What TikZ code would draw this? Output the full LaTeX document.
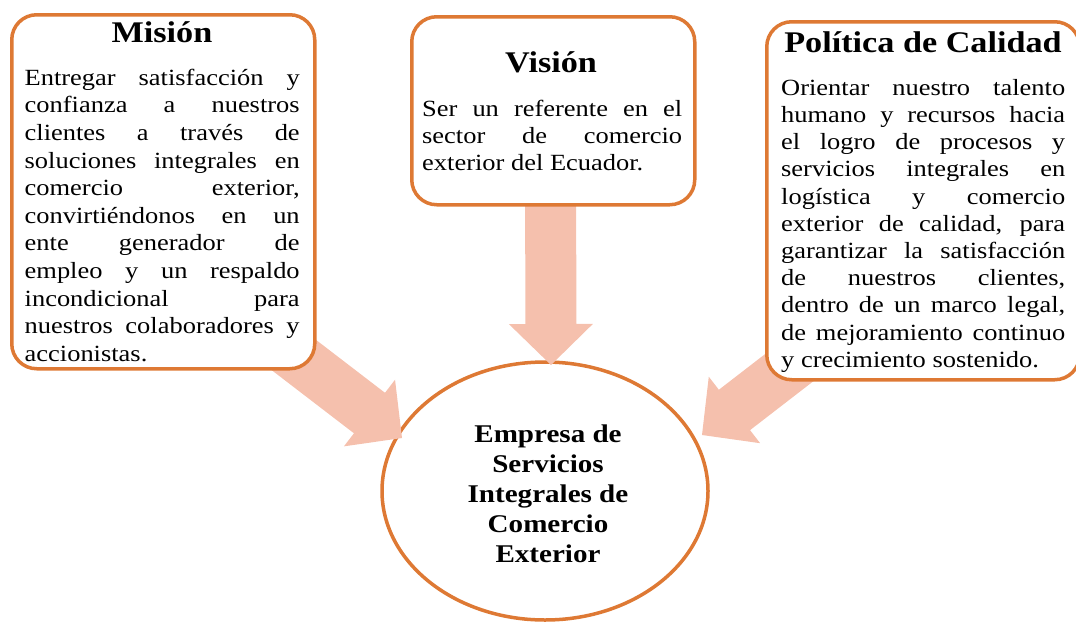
\documentclass[tikz,border=0pt]{standalone}
\usepackage{fontspec}
\setmainfont{Liberation Serif}[FakeStretch=1.14]
\usetikzlibrary{shapes.geometric,calc}
\definecolor{bord}{RGB}{222,121,52}
\definecolor{fatc}{RGB}{245,192,173}
\lineskiplimit=-50pt
\newcommand\J[1]{\makebox[\hsize][s]{\spaceskip=0pt\xspaceskip=0pt\relax #1}}
\newcommand\fatarrowpath[2]{%
  \coordinate (#2h) at ($(#2)!41pt!(#1)$);
  \fill[fatc] (#2) -- ($(#2h)!42pt!90:(#2)$) -- ($(#2h)!25.5pt!90:(#2)$)
    -- ($(#1)!25.5pt!90:(#2)$) -- ($(#1)!25.5pt!-90:(#2)$)
    -- ($(#2h)!25.5pt!-90:(#2)$) -- ($(#2h)!42pt!-90:(#2)$) -- cycle;}
\tikzset{
  box/.style={draw=bord, line width=3.5pt, fill=white, rounded corners=25pt,
    anchor=north west, inner sep=0pt},
  title/.style={anchor=base, inner sep=0pt, font=\fontsize{30}{36}\selectfont\bfseries},
  body/.style={anchor=north west, inner sep=0pt, align=left},
}
\begin{document}
\begin{tikzpicture}[x=1pt,y=-1pt]
\useasboundingbox (0,0) rectangle (1076,621);
% central ellipse
\node[ellipse, draw=bord, line width=3.5pt, fill=white, minimum width=326pt,
  minimum height=258pt, inner sep=0pt] (empresa) at (545,491) {};
\node[anchor=north, inner sep=0pt, align=center,
  font=\fontsize{25.5}{30}\selectfont\bfseries] (etext) at (548,422)
  {\spaceskip=0pt\xspaceskip=0pt\relax
   \rule{0pt}{20pt}Empresa de\\Servicios\\Integrales de\\Comercio\\Exterior};
% fat arrows
\coordinate (tailL) at (243,316);
\coordinate (tipL) at (402,438);
\coordinate (tailM) at (550.5,150);
\coordinate (tipM) at (551,365);
\coordinate (tailR) at (860,313);
\coordinate (tipR) at (702,435);
\fatarrowpath{tailL}{tipL}
\fatarrowpath{tailM}{tipM}
\fatarrowpath{tailR}{tipR}
% boxes
\node[box, minimum width=303pt, minimum height=354pt] (mision) at (10,13) {};
\node[box, minimum width=283pt, minimum height=188pt] (vision) at (410,15) {};
\node[box, minimum width=313pt, minimum height=358pt] (politica) at (765,20) {};
% titles
\node[title] (mt) at (162,42) {Misión};
\node[title] (vt) at (551,72) {Visión};
\node[title] (pt) at (923,52) {\spaceskip=0pt\relax Política de Calidad};
% bodies
\node[body, text width=275pt, font=\fontsize{23.2}{27.6}\selectfont] (mb) at (24.5,61)
 {\spaceskip=0pt\xspaceskip=0pt\relax
  \rule{0pt}{24pt}\J{Entregar satisfacción y}\\
  \J{confianza a nuestros}\\
  \J{clientes a través de}\\
  \J{soluciones integrales en}\\
  \J{comercio exterior,}\\
  \J{convirtiéndonos en un}\\
  \J{ente generador de}\\
  \J{empleo y un respaldo}\\
  \J{incondicional para}\\
  \J{nuestros colaboradores y}\\
  accionistas.};
\node[body, text width=260pt, font=\fontsize{23.2}{27}\selectfont] (vb) at (422,92)
 {\spaceskip=0pt\xspaceskip=0pt\relax
  \rule{0pt}{24pt}\J{Ser un referente en el}\\
  \J{sector de comercio}\\
  exterior del Ecuador.};
\node[body, text width=284pt, font=\fontsize{23.2}{27.2}\selectfont] (pb) at (781,71)
 {\spaceskip=0pt\xspaceskip=0pt\relax
  \rule{0pt}{24pt}\J{Orientar nuestro talento}\\
  \J{humano y recursos hacia}\\
  \J{el logro de procesos y}\\
  \J{servicios integrales en}\\
  \J{logística y comercio}\\
  \J{exterior de calidad, para}\\
  \J{garantizar la satisfacción}\\
  \J{de nuestros clientes,}\\
  \J{dentro de un marco legal,}\\
  \J{de mejoramiento continuo}\\
  y crecimiento sostenido.};
\end{tikzpicture}
\end{document}
